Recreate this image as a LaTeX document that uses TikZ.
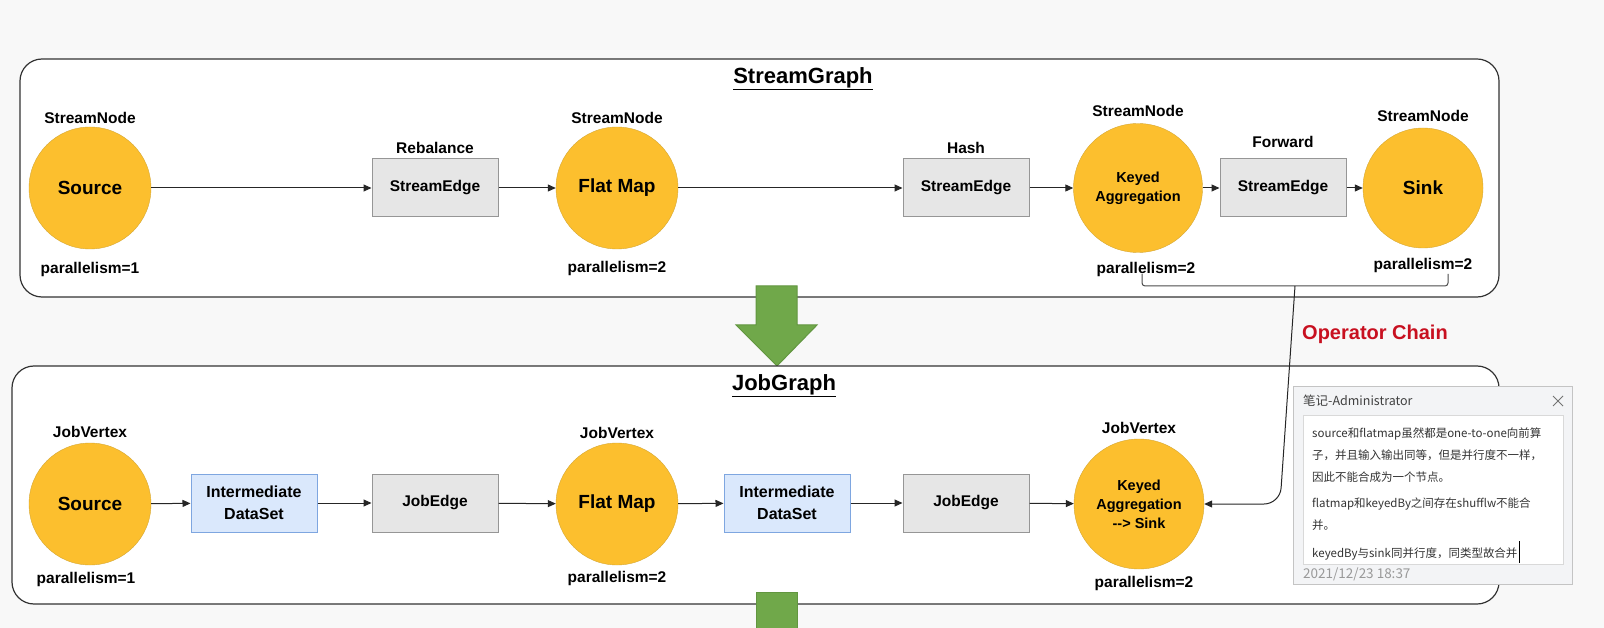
\documentclass[tikz,border=0pt]{standalone}
\usepackage{fontspec}
\setmainfont{Liberation Sans}
\newfontfamily\cjkfont{Noto Sans CJK SC}
\usetikzlibrary{arrows.meta, positioning}

\definecolor{canvas}{RGB}{248,248,248}
\definecolor{opfill}{RGB}{252,191,46}
\definecolor{opline}{RGB}{214,168,52}
\definecolor{edgefill}{RGB}{230,230,230}
\definecolor{edgeline}{RGB}{150,150,150}
\definecolor{dsfill}{RGB}{218,232,252}
\definecolor{dsline}{RGB}{126,166,224}
\definecolor{flowgreen}{RGB}{112,168,74}
\definecolor{flowgreenline}{RGB}{98,150,64}
\definecolor{chainred}{RGB}{200,16,32}
\definecolor{notefill}{RGB}{243,244,246}
\definecolor{noteline}{RGB}{196,196,196}

\begin{document}
\begin{tikzpicture}[
    x=1pt, y=-1pt,
    >={Triangle[length=8pt,width=7pt]},
    graphbox/.style={draw=black!80, line width=1.2pt, fill=white, rounded corners=22pt},
    opnode/.style={circle, draw=opline, fill=opfill, minimum size=122pt, inner sep=0pt, align=center, font=\bfseries\fontsize{19}{22}\selectfont},
    edgebox/.style={draw=edgeline, fill=edgefill, line width=1pt, minimum width=126pt, minimum height=58pt, inner sep=0pt, align=center, font=\bfseries\fontsize{15.5}{22}\selectfont},
    dsbox/.style={edgebox, draw=dsline, fill=dsfill, font=\bfseries\fontsize{16}{22}\selectfont},
    optag/.style={inner sep=0pt, font=\bfseries\fontsize{15.5}{18}\selectfont},
    graphtitle/.style={inner sep=0pt, font=\bfseries\fontsize{22}{26}\selectfont},
    link/.style={->, line width=1pt, draw=black!85},
    greenarrow/.style={fill=flowgreen, draw=flowgreenline, line width=1pt}
]

\fill[canvas] (0,0) rectangle (1604,628);
\useasboundingbox (0,0) rectangle (1604,628);

% StreamGraph
\draw[graphbox] (20,59) rectangle (1499,297);
\node[graphtitle] (sgTitle) at (803,79) {\underline{StreamGraph}};

\node[opnode] (sSrc) at (90,188) {Source};
\node[edgebox] (sReb) at (435,188) {StreamEdge};
\node[opnode] (sMap) at (617,188) {Flat Map};
\node[edgebox] (sHash) at (966,188) {StreamEdge};
\node[opnode, minimum size=129pt, font=\bfseries\fontsize{14.5}{19}\selectfont] (sAgg) at (1138,188) {Keyed\\Aggregation};
\node[edgebox] (sFwd) at (1283,188) {StreamEdge};
\node[opnode, minimum size=120pt] (sSink) at (1423,188) {Sink};

\node[optag, above=3pt of sSrc] (sSrcT) {StreamNode};
\node[optag, below=13pt of sSrc] (sSrcP) {parallelism=1};
\node[optag, above=5pt of sReb] (sRebT) {Rebalance};
\node[optag, above=3pt of sMap] (sMapT) {StreamNode};
\node[optag, below=12pt of sMap] (sMapP) {parallelism=2};
\node[optag, above=5pt of sHash] (sHashT) {Hash};
\node[optag, above=6pt of sAgg] (sAggT) {StreamNode};
\node[optag, below=9pt of sAgg, xshift=8pt] (sAggP) {parallelism=2};
\node[optag, above=11pt of sFwd] (sFwdT) {Forward};
\node[optag, above=6pt of sSink] (sSinkT) {StreamNode};
\node[optag, below=10pt of sSink] (sSinkP) {parallelism=2};

\draw[link] (sSrc) -- (sReb);
\draw[link] (sReb) -- (sMap);
\draw[link] (sMap) -- (sHash);
\draw[link] (sHash) -- (sAgg);
\draw[link] (sAgg) -- (sFwd);
\draw[link] (sFwd) -- (sSink);

% StreamGraph -> JobGraph
\draw[greenarrow] (756,286) -- (797,286) -- (797,325) -- (817,325) -- (777,366) -- (736,325) -- (756,325) -- cycle;

% JobGraph
\draw[graphbox] (12,366) rectangle (1499,604);
\node[graphtitle] (jgTitle) at (784,386) {\underline{JobGraph}};

\node[opnode] (jSrc) at (90,504) {Source};
\node[dsbox] (jDs1) at (254,503) {Intermediate\\DataSet};
\node[edgebox] (jEdge1) at (435,503) {JobEdge};
\node[opnode] (jMap) at (617,504) {Flat Map};
\node[dsbox] (jDs2) at (787,503) {Intermediate\\DataSet};
\node[edgebox] (jEdge2) at (966,503) {JobEdge};
\node[opnode, minimum size=130pt, font=\bfseries\fontsize{14.5}{19}\selectfont] (jAgg) at (1139,504) {Keyed\\Aggregation\\{-}{-}> Sink};

\node[optag, above=5pt of jSrc] (jSrcT) {JobVertex};
\node[optag, below=7pt of jSrc, xshift=-4pt] (jSrcP) {parallelism=1};
\node[optag, above=4pt of jMap] (jMapT) {JobVertex};
\node[optag, below=6pt of jMap] (jMapP) {parallelism=2};
\node[optag, above=5pt of jAgg] (jAggT) {JobVertex};
\node[optag, below=7pt of jAgg, xshift=5pt] (jAggP) {parallelism=2};

\draw[link] (jSrc) -- (jDs1);
\draw[link] (jDs1) -- (jEdge1);
\draw[link] (jEdge1) -- (jMap);
\draw[link] (jMap) -- (jDs2);
\draw[link] (jDs2) -- (jEdge2);
\draw[link] (jEdge2) -- (jAgg);

\fill[greenarrow] (756,592) rectangle (797,632);

% operator chain bracket
\coordinate (chainL) at (1142,274);
\coordinate (chainR) at (1448,274);
\coordinate (chainM) at (1295,286);
\draw[line width=1pt, draw=black!70, rounded corners=3pt] (chainL) -- (1142,286) -- (1448,286) -- (chainR);
\draw[link, rounded corners=16pt] (chainM) -- (1280,504) -- (jAgg.east);
\node[anchor=west, inner sep=0pt, text=chainred, font=\bfseries\fontsize{20}{24}\selectfont] (chainTxt) at (1302,334) {Operator Chain};

% note window
\draw[fill=notefill, draw=noteline, line width=1pt] (1293,386) rectangle (1572,584);
\node[anchor=west, inner sep=0pt, text=black!75, font=\cjkfont\fontsize{12.5}{14}\selectfont] (noteHead) at (1303,401) {笔记-Administrator};
\draw[black!55, line width=1pt] (1553,396) -- (1563,406) (1553,406) -- (1563,396);
\draw[fill=white, draw=black!15, line width=1pt] (1303,415) rectangle (1563,564);
\node[anchor=north west, inner sep=0pt, align=left, text=black!80, font=\cjkfont\fontsize{11.5}{22}\selectfont] (noteBody) at (1312,427.5)
  {source和flatmap虽然都是one-to-one向前算\\子，并且输入输出同等，但是并行度不一样，\\因此不能合成为一个节点。\\[4pt]
   flatmap和keyedBy之间存在shufflw不能合\\并。\\[6pt]
   keyedBy与sink同并行度，同类型故合并};
\draw[black, line width=0.8pt] (1519,541) -- (1519,563);
\node[anchor=west, inner sep=0pt, text=black!40, font=\cjkfont\fontsize{13.5}{14}\selectfont] (noteDate) at (1303,574) {2021/12/23 18:37};

\end{tikzpicture}
\end{document}
